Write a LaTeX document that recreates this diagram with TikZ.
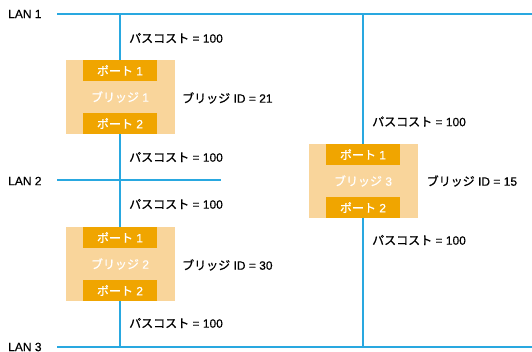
\documentclass[tikz,border=0pt]{standalone}
\usepackage{fontspec}
\setmainfont[FakeBold=0.6]{Liberation Sans}
\newfontfamily\jp[FakeBold=0.8]{Noto Sans CJK JP}
\definecolor{lanblue}{HTML}{29A8E0}
\definecolor{bridgebg}{HTML}{F9D59B}
\definecolor{portbg}{HTML}{F0A500}
\newcommand{\pcost}{{\jp パスコスト} = 100}
\newcommand{\bid}[1]{{\jp ブリッジ} ID = #1}
\begin{document}
\begin{tikzpicture}[x=1pt,y=-1pt,
  every node/.style={font=\fontsize{12}{14}\selectfont},
  lan/.style={draw=lanblue,line width=1.1pt},
  bridgebox/.style={fill=bridgebg,minimum width=109pt,minimum height=74pt,inner sep=0pt,text=white},
  portbox/.style={fill=portbg,minimum width=74pt,minimum height=21pt,inner sep=0pt,text=white},
  lbl/.style={anchor=west,inner sep=0pt,text=black}]
\useasboundingbox (0,0) rectangle (532,352);
% LAN labels
\node[lbl] (lan1t) at (8,14) {LAN 1};
\node[lbl] (lan2t) at (8,181) {LAN 2};
\node[lbl] (lan3t) at (8,347) {LAN 3};
% LAN line endpoints
\coordinate (l1a) at (57,14);
\coordinate (l1b) at (532,14);
\coordinate (l2a) at (57,180);
\coordinate (l2b) at (221,180);
\coordinate (l3a) at (57,347);
\coordinate (l3b) at (532,347);
\draw[lan] (l1a) -- (l1b);
\draw[lan] (l2a) -- (l2b);
\draw[lan] (l3a) -- (l3b);
% Bridges
\node[bridgebox] (b1) at (120,97) {{\jp ブリッジ} 1};
\node[portbox] (b1p1) at (120,70.5) {{\jp ポート} 1};
\node[portbox] (b1p2) at (120,123.5) {{\jp ポート} 2};
\node[bridgebox] (b2) at (120,264) {{\jp ブリッジ} 2};
\node[portbox] (b2p1) at (120,237.5) {{\jp ポート} 1};
\node[portbox] (b2p2) at (120,290.5) {{\jp ポート} 2};
\node[bridgebox] (b3) at (363,181) {{\jp ブリッジ} 3};
\node[portbox] (b3p1) at (363,154.5) {{\jp ポート} 1};
\node[portbox] (b3p2) at (363,207.5) {{\jp ポート} 2};
% connectors
\draw[lan] (b1p1.north |- l1a) -- (b1p1.north);
\draw[lan] (b1p2.south) -- (b2p1.north);
\draw[lan] (b2p2.south) -- (b2p2.south |- l3a);
\draw[lan] (b3p1.north |- l1a) -- (b3p1.north);
\draw[lan] (b3p2.south) -- (b3p2.south |- l3a);
% labels
\node[lbl] (c1) at (129,38) {\pcost};
\node[lbl] (c2) at (129,157) {\pcost};
\node[lbl] (c3) at (129,204) {\pcost};
\node[lbl] (c4) at (129,323) {\pcost};
\node[lbl] (c5) at (372,121.5) {\pcost};
\node[lbl] (c6) at (372,240) {\pcost};
\node[lbl] (id1) at (182,98) {\bid{21}};
\node[lbl] (id2) at (182,265) {\bid{30}};
\node[lbl] (id3) at (426.5,181) {\bid{15}};
\end{tikzpicture}
\end{document}
